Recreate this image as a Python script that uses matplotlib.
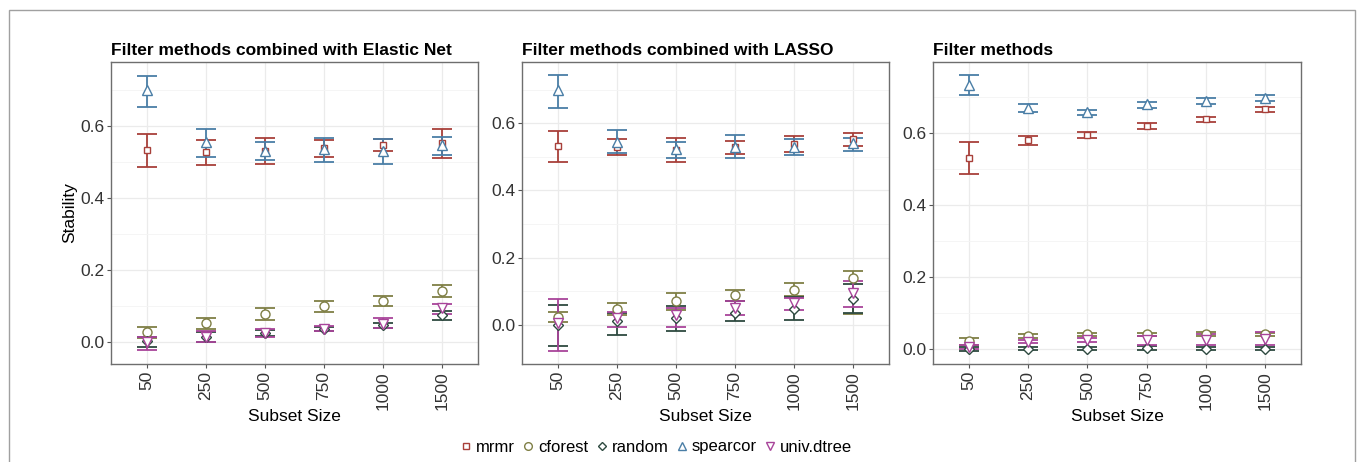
import matplotlib
matplotlib.use("Agg")
import matplotlib.pyplot as plt
from matplotlib.lines import Line2D
from matplotlib.patches import Rectangle
import numpy as np

plt.rcParams['font.family'] = ['Liberation Sans', 'DejaVu Sans']

subset_sizes = ["50", "250", "500", "750", "1000", "1500"]
methods = ["mrmr", "cforest", "random", "spearcor", "univ.dtree"]
titles = ["Filter methods combined with Elastic Net",
          "Filter methods combined with LASSO",
          "Filter methods"]

# ---- Elastic Net ----
en_mrmr = [0.533, 0.529, 0.530, 0.540, 0.548, 0.553]
en_mrmr_lo = [0.486, 0.493, 0.496, 0.515, 0.531, 0.512]
en_mrmr_hi = [0.578, 0.561, 0.567, 0.561, 0.565, 0.591]
en_cforest = [0.029, 0.052, 0.077, 0.100, 0.114, 0.142]
en_cforest_lo = [0.012, 0.037, 0.061, 0.084, 0.100, 0.126]
en_cforest_hi = [0.041, 0.067, 0.094, 0.115, 0.127, 0.159]
en_random = [0.004, 0.013, 0.025, 0.036, 0.047, 0.075]
en_random_lo = [-0.013, -0.001, 0.016, 0.030, 0.040, 0.061]
en_random_hi = [0.013, 0.029, 0.034, 0.043, 0.053, 0.085]
en_spearcor = [0.700, 0.555, 0.532, 0.535, 0.530, 0.548]
en_spearcor_lo = [0.653, 0.513, 0.505, 0.501, 0.496, 0.521]
en_spearcor_hi = [0.740, 0.591, 0.556, 0.567, 0.564, 0.571]
en_univ = [0.000, 0.015, 0.025, 0.037, 0.050, 0.094]
en_univ_lo = [-0.022, 0.000, 0.015, 0.030, 0.040, 0.078]
en_univ_hi = [0.013, 0.031, 0.035, 0.045, 0.067, 0.107]

# ---- LASSO ----
la_mrmr = [0.532, 0.530, 0.520, 0.528, 0.537, 0.552]
la_mrmr_lo = [0.486, 0.505, 0.484, 0.507, 0.513, 0.532]
la_mrmr_hi = [0.577, 0.552, 0.556, 0.548, 0.561, 0.572]
la_cforest = [0.025, 0.048, 0.070, 0.088, 0.104, 0.139]
la_cforest_lo = [0.010, 0.030, 0.045, 0.070, 0.085, 0.033]
la_cforest_hi = [0.040, 0.065, 0.095, 0.104, 0.124, 0.162]
la_random = [0.000, 0.013, 0.020, 0.035, 0.048, 0.077]
la_random_lo = [-0.061, -0.031, -0.018, 0.012, 0.015, 0.035]
la_random_hi = [0.058, 0.035, 0.057, 0.070, 0.083, 0.121]
la_spearcor = [0.698, 0.544, 0.522, 0.530, 0.530, 0.540]
la_spearcor_lo = [0.644, 0.510, 0.498, 0.496, 0.505, 0.518]
la_spearcor_hi = [0.744, 0.581, 0.545, 0.565, 0.554, 0.557]
la_univ = [0.006, 0.020, 0.030, 0.050, 0.065, 0.095]
la_univ_lo = [-0.077, -0.007, -0.007, 0.030, 0.045, 0.053]
la_univ_hi = [0.077, 0.040, 0.050, 0.070, 0.080, 0.131]

# ---- Filter methods ----
fm_mrmr = [0.531, 0.581, 0.594, 0.620, 0.638, 0.666]
fm_mrmr_lo = [0.487, 0.567, 0.586, 0.611, 0.631, 0.659]
fm_mrmr_hi = [0.574, 0.592, 0.603, 0.628, 0.644, 0.672]
fm_cforest = [0.022, 0.036, 0.040, 0.040, 0.042, 0.040]
fm_cforest_lo = [0.010, 0.030, 0.035, 0.035, 0.037, 0.035]
fm_cforest_hi = [0.030, 0.042, 0.045, 0.045, 0.047, 0.045]
fm_random = [0.000, 0.000, 0.000, 0.002, 0.000, 0.000]
fm_random_lo = [-0.005, -0.004, -0.004, -0.002, -0.004, -0.004]
fm_random_hi = [0.005, 0.004, 0.004, 0.008, 0.006, 0.006]
fm_spearcor = [0.733, 0.669, 0.658, 0.679, 0.690, 0.697]
fm_spearcor_lo = [0.706, 0.658, 0.650, 0.669, 0.680, 0.688]
fm_spearcor_hi = [0.760, 0.680, 0.665, 0.686, 0.697, 0.706]
fm_univ = [0.005, 0.020, 0.025, 0.025, 0.025, 0.028]
fm_univ_lo = [0.000, 0.015, 0.020, 0.010, 0.010, 0.010]
fm_univ_hi = [0.010, 0.025, 0.030, 0.035, 0.040, 0.046]

panels = [
    [(en_mrmr, en_mrmr_lo, en_mrmr_hi), (en_cforest, en_cforest_lo, en_cforest_hi),
     (en_random, en_random_lo, en_random_hi), (en_spearcor, en_spearcor_lo, en_spearcor_hi),
     (en_univ, en_univ_lo, en_univ_hi)],
    [(la_mrmr, la_mrmr_lo, la_mrmr_hi), (la_cforest, la_cforest_lo, la_cforest_hi),
     (la_random, la_random_lo, la_random_hi), (la_spearcor, la_spearcor_lo, la_spearcor_hi),
     (la_univ, la_univ_lo, la_univ_hi)],
    [(fm_mrmr, fm_mrmr_lo, fm_mrmr_hi), (fm_cforest, fm_cforest_lo, fm_cforest_hi),
     (fm_random, fm_random_lo, fm_random_hi), (fm_spearcor, fm_spearcor_lo, fm_spearcor_hi),
     (fm_univ, fm_univ_lo, fm_univ_hi)],
]

colors = {"mrmr": "#a8403a", "cforest": "#7f7f45", "random": "#2e4a40",
          "spearcor": "#4a7ea6", "univ.dtree": "#a8449a"}
markers = {"mrmr": "s", "cforest": "o", "random": "D", "spearcor": "^", "univ.dtree": "v"}
msizes = {"mrmr": 5.0, "cforest": 6.5, "random": 5.0, "spearcor": 7.0, "univ.dtree": 7.0}

ylims = [(-0.061, 0.778), (-0.116, 0.782), (-0.042, 0.797)]
W, H = 1357, 462
axes_px = [(111, 478), (522, 889), (933, 1301)]
top_px, bot_px = 62, 364

fig = plt.figure(figsize=(W / 100, H / 100), dpi=100)

x = np.arange(1, len(subset_sizes) + 1)
for i, (data, (l, r)) in enumerate(zip(panels, axes_px)):
    ax = fig.add_axes([l / W, 1 - bot_px / H, (r - l) / W, (bot_px - top_px) / H])
    ax.set_xlim(0.4, 6.6)
    ax.set_ylim(*ylims[i])
    ax.set_yticks([0.0, 0.2, 0.4, 0.6])
    ax.set_yticks([0.1, 0.3, 0.5, 0.7], minor=True)
    ax.set_yticklabels(["0.0", "0.2", "0.4", "0.6"])
    ax.set_xticks(x)
    ax.set_xticklabels(subset_sizes, rotation=90)
    ax.grid(True, which='major', color='#ebebeb', lw=0.9, zorder=0)
    ax.grid(True, which='minor', axis='y', color='#f4f4f4', lw=0.6, zorder=0)
    ax.set_axisbelow(True)
    for s in ax.spines.values():
        s.set_color('#6e6e6e')
        s.set_linewidth(1.0)
    ax.tick_params(axis='both', which='major', length=3, color='#555555',
                   labelsize=12.5, labelcolor='#333333', pad=2)
    ax.tick_params(axis='y', which='minor', length=0)
    for m, (mean, lo, hi) in zip(methods, data):
        mean = np.array(mean); lo = np.array(lo); hi = np.array(hi)
        c = colors[m]
        ax.errorbar(x, mean, yerr=[mean - lo, hi - mean], fmt='none',
                    ecolor=c, elinewidth=1.3, capsize=7, capthick=1.3, zorder=3)
        ax.plot(x, mean, linestyle='none', marker=markers[m], markersize=msizes[m],
                markerfacecolor='white', markeredgecolor=c, markeredgewidth=1.0, zorder=4)
    ax.set_title(titles[i], loc='left', fontsize=12.5, fontweight='bold', pad=5)
    ax.set_xlabel("Subset Size", fontsize=12.5, color='black')
    ax.xaxis.set_label_coords(0.5, -0.15)

fig.text(70 / W, 1 - 213 / H, "Stability", rotation=90, ha='center', va='center',
         fontsize=12.5)

handles = [Line2D([], [], linestyle='none', marker=markers[m], markersize=msizes[m] * 0.85,
                  markerfacecolor='white', markeredgecolor=colors[m], markeredgewidth=1.0,
                  label=m) for m in methods]
fig.legend(handles=handles, loc='center', bbox_to_anchor=(655 / W, 1 - 447 / H), ncol=5,
           frameon=False, fontsize=12, handletextpad=0.1, columnspacing=0.3,
           handlelength=1.0, borderpad=0)

fig.patches.append(Rectangle((9 / W, -0.05), (1355 - 9) / W, 1.05 - 10 / H,
                             transform=fig.transFigure, fill=False,
                             edgecolor='#a0a0a0', lw=1.0))

fig.savefig("out.png", dpi=100)
